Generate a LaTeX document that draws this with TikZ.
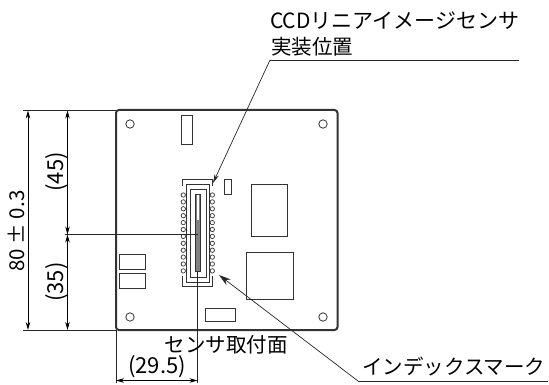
\documentclass[tikz,border=0pt]{standalone}
\usepackage{fontspec}
\setmainfont{Noto Sans CJK JP}
\usetikzlibrary{arrows.meta}
\definecolor{boardline}{gray}{0.2}
\definecolor{slitgray}{gray}{0.5}
\tikzset{
  part/.style={draw=boardline, line width=1pt},
  pad/.style={draw=boardline, line width=0.7pt, circle, inner sep=0pt, minimum size=4.4pt},
  hole/.style={draw=boardline, line width=0.8pt, circle, inner sep=0pt, minimum size=8.4pt},
  dimline/.style={line width=0.7pt, {Stealth[length=8pt,width=4.5pt]}-{Stealth[length=8pt,width=4.5pt]}},
  leader/.style={line width=0.7pt, draw=black!85},
  label/.style={font=\fontsize{20.5}{24}\selectfont, inner sep=0pt},
  numtext/.style={font=\fontsize{22}{26}\selectfont, inner sep=0pt},
}
\begin{document}
\begin{tikzpicture}[x=1pt, y=-1pt, >=stealth]
  \useasboundingbox (0, 0) rectangle (549, 385);
  % board
  \draw[draw=boardline, line width=2pt, rounded corners=3pt] (116, 110) rectangle (337.5, 330);
  \foreach \hx/\hy in {130/124, 323/124, 130/317, 323/317}
    \node[hole] at (\hx, \hy) {};
  % parts on the board
  \draw[part] (181, 116) rectangle (192, 145);
  \draw[part] (224.5, 180) rectangle (231.5, 194);
  \draw[part] (251, 184) rectangle (287, 236);
  \draw[part] (246, 252) rectangle (293, 299);
  \draw[part] (119.5, 254) rectangle (145.5, 269);
  \draw[part] (119.5, 273.5) rectangle (145.5, 288.5);
  \draw[part] (205, 308) rectangle (235, 321);
  % sensor
  \draw[part] (182.7, 186) -- (182.7, 180) -- (212.7, 180) -- (212.7, 186);
  \draw[part] (182.7, 276) -- (182.7, 286) -- (212.7, 286) -- (212.7, 276);
  \draw[part] (186.7, 184) rectangle (209.3, 282.7);
  \draw[part] (190, 189) rectangle (206, 277);
  \draw[part, fill=slitgray] (195.3, 194) rectangle (200.7, 271.5);
  \fill[white] (196.6, 195) rectangle (199.4, 220);
  \foreach \n in {0,...,11} {
    \node[pad] at (183.3, 195 + 6.9*\n) {};
    \node[pad] at (212.3, 195 + 6.9*\n) {};
  }
  % leaders
  \node[label, font=\fontsize{21}{24}\selectfont, anchor=west] (ccdtext) at (270, 21) {CCDリニアイメージセンサ};
  \node[label, anchor=west] (postext) at (271, 47) {実装位置};
  \coordinate (ccdend) at (519, 60);
  \coordinate (ccdknee) at (270, 60);
  \coordinate (ccdtip) at (213, 183);
  \draw[leader] (ccdend) -- (ccdknee);
  \draw[leader, -{Stealth[length=9pt,width=4.5pt]}] (ccdknee) -- (ccdtip);
  \node[label, anchor=west] (marktext) at (362, 367) {インデックスマーク};
  \coordinate (markend) at (548, 381);
  \coordinate (markknee) at (358, 381);
  \coordinate (marktip) at (219, 275);
  \draw[leader] (markend) -- (markknee);
  \draw[leader, -{Stealth[length=12pt,width=7pt]}] (markknee) -- (marktip);
  % extension lines
  \coordinate (toptick) at (23, 110.5);
  \coordinate (topedge) at (116, 110.5);
  \coordinate (bottick) at (23, 330);
  \coordinate (botedge) at (116, 330);
  \coordinate (midtick) at (65, 234.5);
  \coordinate (midedge) at (198, 234.5);
  \draw[leader] (toptick) -- (topedge);
  \draw[leader] (bottick) -- (botedge);
  \draw[leader] (midtick) -- (midedge);
  \coordinate (leftdrop) at (116, 383);
  \coordinate (leftedge) at (116, 330);
  \coordinate (sensdrop) at (197.5, 383);
  \coordinate (sensedge) at (197.5, 272);
  \draw[leader] (leftedge) -- (leftdrop);
  \draw[leader] (sensedge) -- (sensdrop);
  % dimensions
  \coordinate (oa) at (28, 110.5);
  \coordinate (ob) at (28, 330);
  \coordinate (ua) at (67.5, 110.5);
  \coordinate (ub) at (67.5, 234.5);
  \coordinate (uc) at (67.5, 330);
  \coordinate (wa) at (116, 380.5);
  \coordinate (wb) at (197.5, 380.5);
  \draw[dimline] (oa) -- (ob);
  \draw[dimline] (ua) -- (ub);
  \draw[dimline] (ub) -- (uc);
  \draw[dimline] (wa) -- (wb);
  \node[label, rotate=90] (alltext) at (16, 231) {80 ± 0.3};
  \node[numtext, rotate=90] (uppertext) at (57, 172) {(45)};
  \node[numtext, rotate=90] (lowertext) at (57, 282) {(35)};
  \node[numtext] (widthtext) at (157, 367) {(29.5)};
  \node[label] (facetext) at (226, 345) {センサ取付面};
\end{tikzpicture}
\end{document}
